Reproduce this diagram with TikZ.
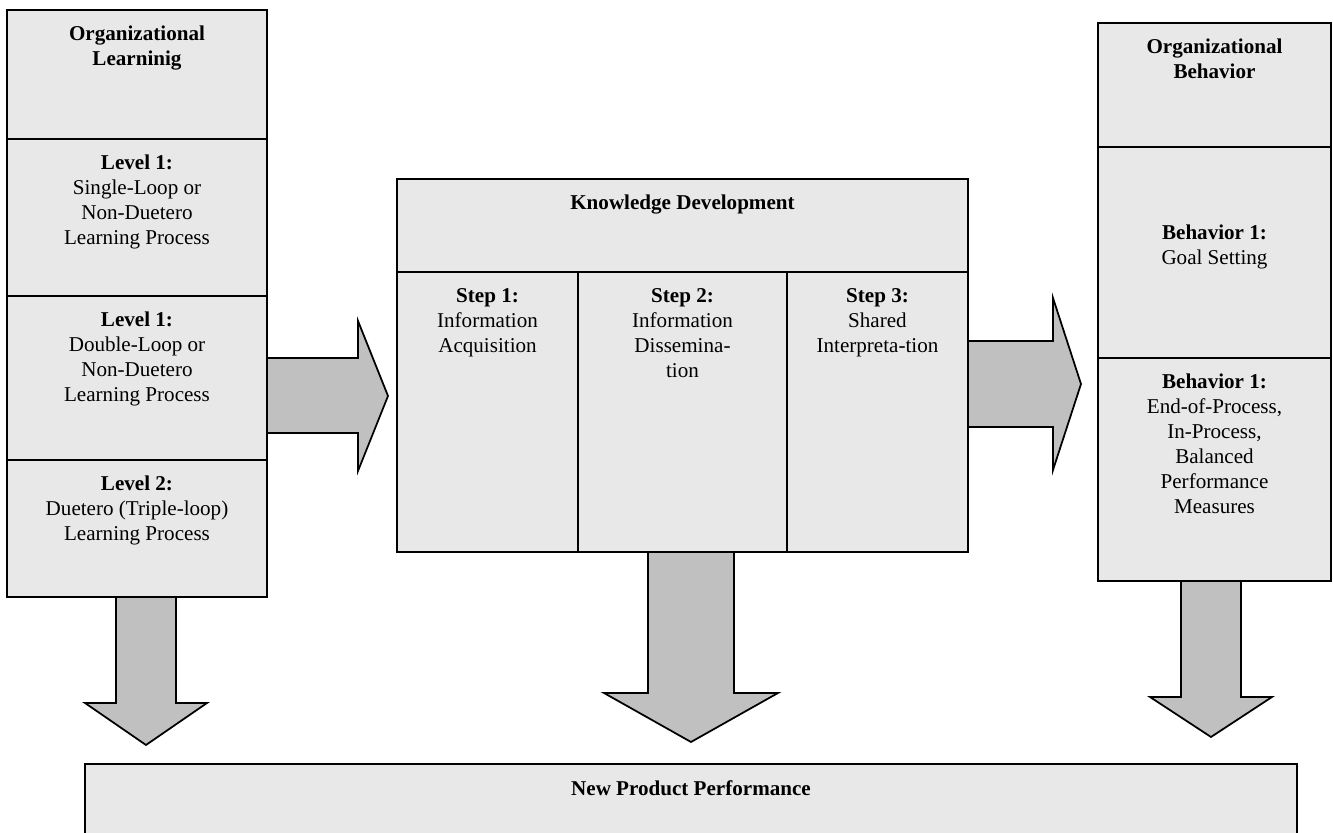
\documentclass[tikz,border=0pt]{standalone}
\usepackage{fontspec}
\setmainfont{Liberation Serif}
\usepackage{tikz}
\usetikzlibrary{positioning}
\definecolor{cellgray}{RGB}{232,232,232}
\definecolor{arrowgray}{RGB}{192,192,192}

\begin{document}
\begin{tikzpicture}[
  every node/.style={font=\fontsize{12}{14.2}\selectfont},
  cell/.style={draw,line width=1pt,fill=cellgray,inner sep=0pt,outer sep=0pt},
  celltext/.style={anchor=north,align=center,inner sep=0pt,yshift=-0.32cm},
  blockarrow/.style={draw,line width=1pt,fill=arrowgray,line join=miter}
]
  \useasboundingbox (0,0) rectangle (26.66,16.66);

  % block arrows
  \draw[blockarrow] (5.34,9.50) -- (7.16,9.50) -- (7.16,10.24) -- (7.76,8.74)
    -- (7.16,7.24) -- (7.16,8.00) -- (5.34,8.00) -- cycle;
  \draw[blockarrow] (19.36,9.84) -- (21.06,9.84) -- (21.06,10.70) -- (21.62,8.98)
    -- (21.06,7.26) -- (21.06,8.12) -- (19.36,8.12) -- cycle;
  \draw[blockarrow] (2.32,4.72) -- (2.32,2.60) -- (1.70,2.60) -- (2.92,1.76)
    -- (4.14,2.60) -- (3.52,2.60) -- (3.52,4.72) -- cycle;
  \draw[blockarrow] (12.96,5.62) -- (12.96,2.80) -- (12.08,2.80) -- (13.82,1.82)
    -- (15.56,2.80) -- (14.68,2.80) -- (14.68,5.62) -- cycle;
  \draw[blockarrow] (23.62,5.04) -- (23.62,2.72) -- (23.00,2.72) -- (24.22,1.92)
    -- (25.44,2.72) -- (24.82,2.72) -- (24.82,5.04) -- cycle;

  % organizational learning
  \node[cell,minimum width=5.20cm,minimum height=2.58cm] (learn) at (2.74,15.17) {};
  \node[cell,minimum width=5.20cm,minimum height=3.14cm] (levelA) at (2.74,12.31) {};
  \node[cell,minimum width=5.20cm,minimum height=3.28cm] (levelB) at (2.74,9.10) {};
  \node[cell,minimum width=5.20cm,minimum height=2.74cm] (levelC) at (2.74,6.09) {};
  \node[celltext] (learntxt) at (learn.north) {\textbf{Organizational}\\\textbf{Learninig}};
  \node[celltext] (levelAtxt) at (levelA.north) {\textbf{Level 1:}\\Single-Loop or\\Non-Duetero\\Learning Process};
  \node[celltext] (levelBtxt) at (levelB.north) {\textbf{Level 1:}\\Double-Loop or\\Non-Duetero\\Learning Process};
  \node[celltext] (levelCtxt) at (levelC.north) {\textbf{Level 2:}\\Duetero (Triple-loop)\\Learning Process};

  % knowledge development
  \node[cell,minimum width=11.42cm,minimum height=1.86cm] (know) at (13.65,12.15) {};
  \node[cell,minimum width=3.62cm,minimum height=5.60cm] (stepA) at (9.75,8.42) {};
  \node[cell,minimum width=4.18cm,minimum height=5.60cm] (stepB) at (13.65,8.42) {};
  \node[cell,minimum width=3.62cm,minimum height=5.60cm] (stepC) at (17.55,8.42) {};
  \node[celltext] (knowtxt) at (know.north) {\textbf{Knowledge Development}};
  \node[celltext] (stepAtxt) at (stepA.north) {\textbf{Step 1:}\\Information\\Acquisition};
  \node[celltext] (stepBtxt) at (stepB.north) {\textbf{Step 2:}\\Information\\Dissemina-\\tion};
  \node[celltext] (stepCtxt) at (stepC.north) {\textbf{Step 3:}\\Shared\\Interpreta-tion};

  % organizational behavior
  \node[cell,minimum width=4.66cm,minimum height=2.48cm] (behav) at (24.29,14.96) {};
  \node[cell,minimum width=4.66cm,minimum height=4.22cm] (behavA) at (24.29,11.61) {};
  \node[cell,minimum width=4.66cm,minimum height=4.46cm] (behavB) at (24.29,7.27) {};
  \node[celltext] (behavtxt) at (behav.north) {\textbf{Organizational}\\\textbf{Behavior}};
  \node[celltext,yshift=-1.24cm] (behavAtxt) at (behavA.north) {\textbf{Behavior 1:}\\Goal Setting};
  \node[celltext] (behavBtxt) at (behavB.north) {\textbf{Behavior 1:}\\End-of-Process,\\In-Process,\\Balanced\\Performance\\Measures};

  % new product performance
  \node[cell,minimum width=24.24cm,minimum height=2.00cm] (perf) at (13.82,0.38) {};
  \node[celltext] (perftxt) at (perf.north) {\textbf{New Product Performance}};
\end{tikzpicture}
\end{document}
